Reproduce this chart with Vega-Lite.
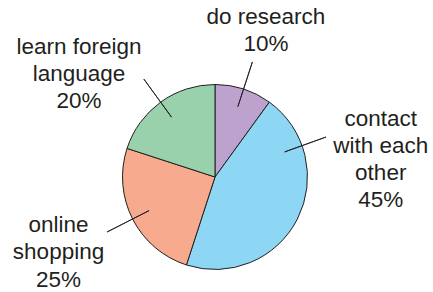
{
  "$schema": "https://vega.github.io/schema/vega-lite/v6.json",
  "autosize": {"type": "none"},
  "padding": {"left": 0, "top": 62, "right": 3, "bottom": 0},
  "width": 430,
  "height": 230,
  "background": "white",
  "view": {"stroke": null},
  "config": {"text": {"font": "Liberation Sans", "fontSize": 22.5, "lineHeight": 27.3, "fill": "#231f20", "align": "center", "baseline": "middle"}},
  "data": {
    "values": [
      {"category": "do research", "percent": 10, "idx": 1, "label": ["do research", "10%"]},
      {"category": "contact with each other", "percent": 45, "idx": 2, "label": ["contact", "with each", "other", "45%"]},
      {"category": "online shopping", "percent": 25, "idx": 3, "label": ["online", "shopping", "25%"]},
      {"category": "learn foreign language", "percent": 20, "idx": 4, "label": ["learn foreign", "language", "20%"]}
    ]
  },
  "encoding": {
    "theta": {"field": "percent", "type": "quantitative", "stack": true},
    "order": {"field": "idx", "type": "quantitative"}
  },
  "resolve": {"scale": {"theta": "independent"}},
  "layer": [
    {
      "mark": {"type": "arc", "radius": 92.5, "stroke": "#231f20", "strokeWidth": 1},
      "encoding": {
        "color": {
          "field": "category", "type": "nominal", "legend": null,
          "scale": {
            "domain": ["do research", "contact with each other", "online shopping", "learn foreign language"],
            "range": ["#bca2cc", "#8dd7f5", "#f7aa8d", "#99d1ad"]
          }
        }
      }
    },
    {
      "mark": {"type": "arc", "radius": 121, "radius2": 74, "padAngle": 3.14, "filled": false, "stroke": "#231f20", "strokeWidth": 0.9},
      "encoding": {
        "strokeOpacity": {"condition": {"test": "datum.category === 'contact with each other'", "value": 0}, "value": 1}
      }
    },
    {
      "mark": {"type": "arc", "radius": 118, "radius2": 74, "padAngle": 3.14, "filled": false, "stroke": "#231f20", "strokeWidth": 0.9},
      "encoding": {
        "theta": {"field": "percent", "type": "quantitative", "stack": true, "scale": {"domain": [13, 113]}},
        "strokeOpacity": {"condition": {"test": "datum.category === 'contact with each other'", "value": 1}, "value": 0}
      }
    },
    {
      "mark": {"type": "text", "radius": 155, "dx": 3, "dy": -13},
      "encoding": {"text": {"condition": {"test": "datum.category === 'do research'", "field": "label"}, "value": ""}}
    },
    {
      "mark": {"type": "text", "radius": 140, "dx": 41, "dy": -122},
      "encoding": {"text": {"condition": {"test": "datum.category === 'contact with each other'", "field": "label"}, "value": ""}}
    },
    {
      "mark": {"type": "text", "radius": 170, "dx": -5, "dy": -29},
      "encoding": {"text": {"condition": {"test": "datum.category === 'online shopping'", "field": "label"}, "value": ""}}
    },
    {
      "mark": {"type": "text", "radius": 160, "dx": -42, "dy": -1},
      "encoding": {"text": {"condition": {"test": "datum.category === 'learn foreign language'", "field": "label"}, "value": ""}}
    }
  ]
}
